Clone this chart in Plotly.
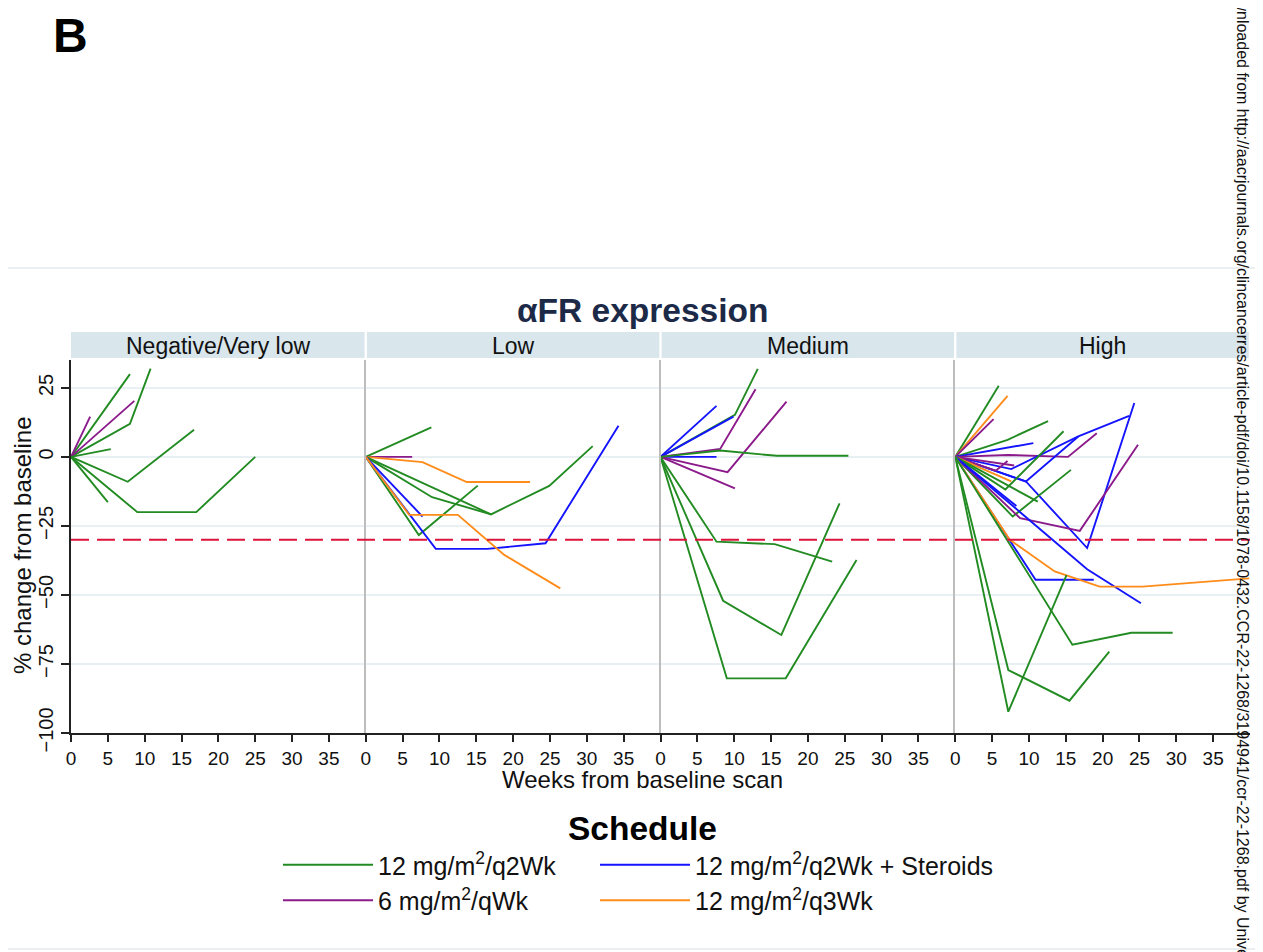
import plotly.graph_objects as go

# ---------------- data ----------------
panels = ["Negative/Very low", "Low", "Medium", "High"]
schedules = ["12 mg/m<sup>2</sup>/q2Wk", "12 mg/m<sup>2</sup>/q2Wk + Steroids",
             "6 mg/m<sup>2</sup>/qWk", "12 mg/m<sup>2</sup>/q3Wk"]
schedule_colors = ["#228b22", "#1414ff", "#8b1a8b", "#ff8c1a"]
x_ticks = [0, 5, 10, 15, 20, 25, 30, 35]
y_ticks = [-100, -75, -50, -25, 0, 25]
threshold = -30

# schedule index: 0=q2Wk, 1=q2Wk+Steroids, 2=qWk, 3=q3Wk
neg_sched = [0, 0, 2, 2, 0, 0, 0, 0]
neg_weeks = [[0, 8], [0, 8, 10.8], [0, 2.6], [0, 8.6], [0, 5.4], [0, 7.7, 16.7], [0, 9, 17, 25], [0, 5]]
neg_change = [[0, 30], [0, 12, 32], [0, 14.6], [0, 20.3], [0, 2.8], [0, -9, 9.8], [0, -20, -20, 0], [0, -16.4]]

low_sched = [0, 2, 3, 0, 0, 0, 1, 1, 3]
low_weeks = [[0, 8.9], [0, 6.3], [0, 7.7, 13.7, 22.3], [0, 7.2, 15.2], [0, 9, 17],
             [0, 17, 24.9, 30.8], [0, 7.7], [0, 9.5, 16.5, 24.4, 34.3], [0, 5.9, 12.5, 18.8, 26.4]]
low_change = [[0, 10.7], [0, 0], [0, -1.9, -9.1, -9.1], [0, -28.3, -10.4], [0, -14.6, -20.8],
              [0, -20.8, -10.5, 3.9], [0, -21.6], [0, -33.3, -33.3, -31.3, 11.3], [0, -21, -21, -35.5, -47.6]]

med_sched = [0, 1, 1, 1, 2, 2, 2, 0, 0, 0, 0]
med_weeks = [[0, 10.1, 13.2], [0, 7.6], [0, 9.9], [0, 7.6], [0, 8.1, 12.9], [0, 9.1, 17.1], [0, 10.1],
             [0, 8.1, 15.8, 25.5], [0, 7.6, 15.5, 23.3], [0, 8.5, 16.4, 24.3], [0, 9, 17, 26.6]]
med_change = [[0, 15.2, 31.9], [0, 18.5], [0, 14.6], [0, 0], [0, 2.9, 24.5], [0, -5.5, 20], [0, -11.4],
              [0, 2.3, 0.4, 0.4], [0, -30.7, -31.6, -37.9], [0, -52.1, -64.5, -16.8], [0, -80.2, -80.2, -37.3]]

high_sched = [0, 3, 2, 0, 1, 2, 1, 1, 1, 2, 2, 3, 0, 0, 0, 1, 2, 1, 1, 3, 0, 0, 0]
high_weeks = [[0, 5.9], [0, 7.1], [0, 5.2], [0, 7.1, 12.6], [0, 10.6], [0, 7.1, 15.3, 19.2],
              [0, 7.6, 16.7, 23.6], [0, 9.6, 16.7], [0, 9.6, 17.9, 24.3], [0, 8], [0, 5.5, 7.1],
              [0, 7.6], [0, 6.8, 14.7], [0, 7.8, 15.7], [0, 11.2], [0, 8.3], [0, 8.8, 16.9, 24.8],
              [0, 17.9, 25.2], [0, 10.9, 18.8], [0, 7.4, 13.5, 19.6, 25.4, 39.9],
              [0, 7.2, 15.1], [0, 7.2, 15.5, 20.9], [0, 7.3, 15.9, 23.9, 29.5]]
high_change = [[0, 25.8], [0, 22.1], [0, 13.7], [0, 6.2, 13.0], [0, 5.0], [0, 0.7, 0, 8.6],
               [0, -4.4, 7.4, 14.9], [0, -8.9, 7.4], [0, -8.9, -33, 19.5], [0, -3.1], [0, -5, -1.5],
               [0, -8.9], [0, -11.8, 9.3], [0, -21.6, -4.7], [0, -16.2], [0, -17.8], [0, -22.2, -26.8, 4.4],
               [0, -40.7, -53], [0, -44.5, -44.5], [0, -30, -41.5, -47, -47, -44],
               [0, -92.3, -42.8], [0, -77.2, -88.3, -70.5], [0, -31, -68, -63.7, -63.7]]

panel_data = [(neg_sched, neg_weeks, neg_change), (low_sched, low_weeks, low_change),
              (med_sched, med_weeks, med_change), (high_sched, high_weeks, high_change)]

# ---------------- layout helpers ----------------
OFF = 8                      # page body margin
W, H = 1263 - OFF, 952 - OFF
ML = 71 - OFF
MT = 360 - OFF
MR = W - (1250 - OFF)
MB = H - (733 - OFF)
PW = W - ML - MR
PH = H - MT - MB
FONT = "Arial, Liberation Sans, sans-serif"


def px_x(px):
    return (px - OFF - ML) / PW


def px_y(py):
    return (H - MB - (py - OFF)) / PH


fig = go.Figure()

for p, (sched, weeks, change) in enumerate(panel_data):
    xa = "x" if p == 0 else f"x{p + 1}"
    ya = "y" if p == 0 else f"y{p + 1}"
    for s, wk, ch in zip(sched, weeks, change):
        fig.add_trace(go.Scatter(x=wk, y=ch, mode="lines", xaxis=xa, yaxis=ya,
                                 line=dict(color=schedule_colors[s], width=1.9),
                                 showlegend=False, hoverinfo="skip"))

# legend entries (two legends arranged as two columns)
legend_cols = ["legend", "legend2", "legend", "legend2"]
for s in range(4):
    fig.add_trace(go.Scatter(x=[None], y=[None], mode="lines", name=schedules[s],
                             line=dict(color=schedule_colors[s], width=2),
                             legend=legend_cols[s], showlegend=True))

layout = dict(
    width=W, height=H, margin=dict(l=ML, r=MR, t=MT, b=MB),
    paper_bgcolor="white", plot_bgcolor="white",
    font=dict(family=FONT, color="#111"),
)
for p in range(4):
    xn = "xaxis" if p == 0 else f"xaxis{p + 1}"
    yn = "yaxis" if p == 0 else f"yaxis{p + 1}"
    layout[xn] = dict(domain=[p / 4, (p + 1) / 4], range=[0, 40],
                      anchor="y" if p == 0 else f"y{p + 1}",
                      tickvals=x_ticks, ticks="outside", ticklen=7, tickwidth=1.5, tickcolor="#222",
                      showline=True, linecolor="#222", linewidth=1.5, showgrid=False, zeroline=False,
                      tickfont=dict(size=19, family=FONT, color="#111"))
    yd = dict(domain=[0, 1], range=[-100, 35.1], anchor="x" if p == 0 else f"x{p + 1}",
              tickvals=y_ticks, showgrid=True, gridcolor="#e9f0f3", gridwidth=1.5, zeroline=False)
    if p == 0:
        yd.update(showline=True, linecolor="#222", linewidth=1.5, ticks="outside", ticklen=8,
                  tickwidth=1.5, tickcolor="#222", tickangle=-90,
                  tickfont=dict(size=20, family=FONT, color="#111"))
    else:
        yd.update(showline=True, linecolor="#bdbdbd", linewidth=2, ticks="", showticklabels=False)
    layout[yn] = yd

layout["legend"] = dict(x=px_x(278), y=px_y(842), xanchor="left", yanchor="top",
                        orientation="v", itemwidth=90, font=dict(size=25, family=FONT, color="#111"),
                        bgcolor="rgba(0,0,0,0)", tracegroupgap=0)
layout["legend2"] = dict(x=px_x(595), y=px_y(842), xanchor="left", yanchor="top",
                         orientation="v", itemwidth=90, font=dict(size=25, family=FONT, color="#111"),
                         bgcolor="rgba(0,0,0,0)", tracegroupgap=0)
fig.update_layout(**layout)

shapes = []
for p in range(4):
    shapes.append(dict(type="rect", xref="paper", yref="paper",
                       x0=p / 4 + (0.001 if p else 0), x1=(p + 1) / 4 - 0.001,
                       y0=px_y(358), y1=px_y(332), fillcolor="#d9e6ec", line=dict(width=0), layer="below"))
shapes.append(dict(type="line", xref="paper", yref="y", x0=0, x1=1, y0=threshold, y1=threshold,
                   line=dict(color="#dc143c", width=2, dash="18px,8px")))
shapes.append(dict(type="line", xref="paper", yref="paper", x0=px_x(OFF), x1=px_x(1263),
                   y0=px_y(268), y1=px_y(268), line=dict(color="#e6eaec", width=1.5)))
shapes.append(dict(type="line", xref="paper", yref="paper", x0=px_x(OFF), x1=px_x(1263),
                   y0=px_y(949), y1=px_y(949), line=dict(color="#e6eaec", width=1.5)))
fig.update_layout(shapes=shapes)


def label(text, x, y, size, color="#111", angle=0, xanchor="center", yanchor="middle"):
    return dict(text=text, x=x, y=y, xref="paper", yref="paper", showarrow=False,
                xanchor=xanchor, yanchor=yanchor, textangle=angle,
                font=dict(size=size, family=FONT, color=color))


ann = [
    label("<b>B</b>", px_x(70), px_y(35), 48, "black"),
    label("<b>αFR expression</b>", px_x(642), px_y(311), 33.5, "#1c2a48"),
    label("Weeks from baseline scan", px_x(642), px_y(779), 24),
    label("% change from baseline", px_x(22), px_y(546), 24, angle=-90),
    label("<b>Schedule</b>", px_x(642), px_y(828), 33.5, "black"),
    label("Downloaded from http://aacrjournals.org/clincancerres/article-pdf/doi/10.1158/"
          "1078-0432.CCR-22-1268/3194941/ccr-22-1268.pdf by University",
          px_x(1243), px_y(-23), 16, angle=90, yanchor="top"),
]
for p, name in enumerate(panels):
    ann.append(label(name, (p + 0.5) / 4, px_y(346), 23))
fig.update_layout(annotations=ann)

fig.write_html("out.html")
